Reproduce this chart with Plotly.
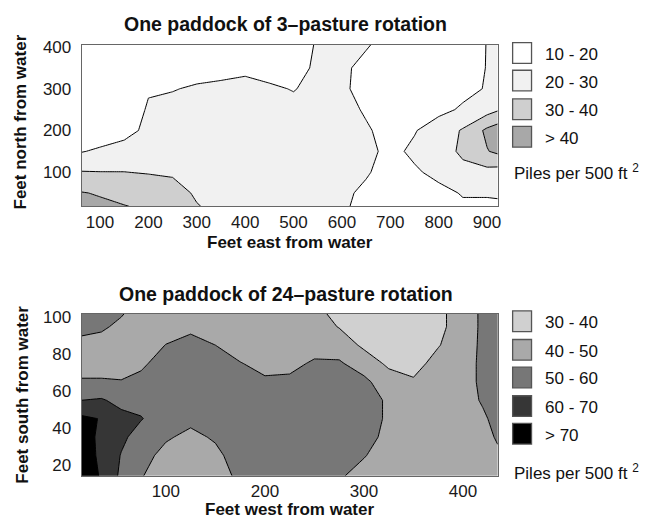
import plotly.graph_objects as go

# ---------------- Data: top panel (3-pasture rotation) ----------------
top_x = [62, 100, 150, 200, 250, 300, 350, 400, 450, 500, 550, 600, 650, 700, 750, 800, 850, 900, 922]
top_y = [18, 50, 100, 150, 200, 250, 300, 350, 406]
# piles per 500 ft^2, one list per x position (values going up in y)
top_cols = [
    [45, 40.5, 30.5, 19.5, 15, 14, 13, 13, 13],
    [42, 39.2, 30.2, 21.5, 14, 13, 13, 12, 12],
    [40.5, 36, 30.1, 25, 15.7, 14, 13, 12, 12],
    [38, 35, 29.5, 25, 23, 21, 19.2, 15, 14],
    [36, 33, 29, 25, 24, 23, 19.5, 15, 14],
    [30.4, 29, 27, 26, 25, 24, 21.2, 16, 14],
    [28, 27, 26, 26, 25, 24, 22, 17, 14],
    [27, 26, 26, 26, 25, 24, 23, 18, 14],
    [26, 26, 26, 25, 25, 24, 21.5, 16, 14],
    [26, 26, 25, 25, 24, 23, 19.5, 16, 15],
    [26, 26, 25, 25, 25, 24, 23, 22, 21],
    [21.5, 22, 23, 24, 24, 23, 21, 21, 23],
    [17, 18, 21, 22, 21, 19, 18, 18.5, 20.5],
    [15, 14, 16, 18, 17, 15, 15, 16, 18],
    [15, 16, 19, 21.5, 19.5, 16, 15, 15, 16],
    [16, 18, 22, 25, 24, 18, 16, 15, 15],
    [19, 20.5, 27, 32, 31, 21, 18, 16, 16],
    [19, 20.5, 27, 39.5, 42, 26, 20.5, 20.3, 20.2],
    [18, 21.5, 26, 42, 45, 29, 25, 23, 22],
]
top_labels = ["10 - 20", "20 - 30", "30 - 40", "> 40"]
top_colors = ["#ffffff", "#f1f1f1", "#cfcfcf", "#a8a8a8"]
top_xticks = [100, 200, 300, 400, 500, 600, 700, 800, 900]
top_yticks = [100, 200, 300, 400]

# ---------------- Data: bottom panel (24-pasture rotation) ----------------
bot_x = [15, 35, 55, 75, 100, 125, 150, 175, 200, 225, 250, 275, 300, 325, 350, 375, 400, 420, 435]
bot_y = [14, 25, 35, 45, 55, 65, 75, 85, 95, 102]
bot_cols = [
    [76, 75, 74, 72, 60, 51, 46, 45, 55, 56],
    [69, 68, 68, 69.5, 61, 51, 46, 45, 52, 55],
    [58, 59.5, 62, 63, 57, 50.5, 46, 44, 47, 51],
    [50.5, 53, 56, 60.5, 57, 53, 48, 45, 44, 44],
    [46, 47.5, 51, 55, 57, 57, 55, 50.2, 46, 44],
    [45, 46, 48, 52, 56, 58, 57, 53, 48, 45],
    [46, 48, 51, 55, 58, 58, 56, 50, 47, 45],
    [52, 54, 56, 58, 58, 57, 50.3, 47, 45, 44],
    [55, 57, 58, 59, 58, 51, 48, 46, 45, 44],
    [56, 58, 59, 59, 58, 51.5, 48, 46, 45, 44],
    [56, 58, 58, 58, 57, 55, 51, 47, 45, 43],
    [51, 54, 56, 57, 57, 55, 51, 46, 39.5, 37],
    [47, 50.5, 54, 56, 56, 52, 46, 38, 36, 35],
    [45, 46, 47, 48, 48, 45, 38, 36, 35, 35],
    [44, 45, 46, 46, 45, 41, 37, 35, 35, 35],
    [44, 45, 45, 45, 45, 44, 43, 39.5, 38, 38],
    [44, 45, 46, 46, 46, 46, 46, 45, 44, 44],
    [45, 46, 47, 48.5, 51, 52, 52, 52, 52, 52],
    [47, 48.5, 51, 53, 54, 55, 55, 55, 55, 55],
]
bot_labels = ["30 - 40", "40 - 50", "50 - 60", "60 - 70", "> 70"]
bot_colors = ["#d0d0d0", "#a9a9a9", "#777777", "#363636", "#000000"]
bot_xticks = [100, 200, 300, 400]
bot_yticks = [20, 40, 60, 80, 100]

# page body has an 8px margin: the figure is drawn 16px smaller than the window
OFF = 8
W, H = 657 - 2 * OFF, 529 - 2 * OFF
FONT = "Liberation Sans, Arial, Helvetica, sans-serif"


def stepped(colors):
    n = len(colors)
    scale = []
    for i, c in enumerate(colors):
        lo = 0 if i == 0 else (i - 0.5) / (n - 1)
        hi = 1 if i == n - 1 else (i + 0.5) / (n - 1)
        scale.append([lo, c])
        scale.append([hi, c])
    return scale


def transpose(cols):
    return [list(r) for r in zip(*cols)]


def px_x(p):
    return (p - OFF) / W


def px_y(p):
    return 1 - (p - OFF) / H


fig = go.Figure()

fig.add_trace(go.Contour(
    x=top_x, y=top_y, z=transpose(top_cols),
    contours=dict(start=20, end=40, size=10, coloring="fill", showlines=True),
    line=dict(color="black", width=1, smoothing=0),
    colorscale=stepped(top_colors), showscale=False, hoverinfo="skip",
    xaxis="x", yaxis="y",
))
fig.add_trace(go.Contour(
    x=bot_x, y=bot_y, z=transpose(bot_cols),
    contours=dict(start=40, end=70, size=10, coloring="fill", showlines=True),
    line=dict(color="black", width=1, smoothing=0),
    colorscale=stepped(bot_colors), showscale=False, hoverinfo="skip",
    xaxis="x2", yaxis="y2",
))

tickfont = dict(family=FONT, size=17, color="#1a1a1a")
xaxis_common = dict(showgrid=False, zeroline=False, showline=True, mirror=True,
                    linecolor="#666666", linewidth=1, ticks="", tickfont=tickfont)
yaxis_common = dict(showgrid=False, zeroline=False, showline=True, mirror=True,
                    linecolor="#666666", linewidth=1, ticks="outside", ticklen=6,
                    tickcolor="rgba(0,0,0,0)", tickfont=tickfont)

fig.update_layout(
    width=W, height=H, margin=dict(l=0, r=0, t=0, b=0),
    paper_bgcolor="white", plot_bgcolor="white", showlegend=False,
    xaxis=dict(domain=[px_x(82), px_x(500)], range=[top_x[0], top_x[-1]],
               tickvals=top_xticks, anchor="y", **xaxis_common),
    yaxis=dict(domain=[px_y(202), px_y(38)], range=[top_y[0], top_y[-1]],
               tickvals=top_yticks, anchor="x", **yaxis_common),
    xaxis2=dict(domain=[px_x(82), px_x(500)], range=[bot_x[0], bot_x[-1]],
                tickvals=bot_xticks, anchor="y2", **xaxis_common),
    yaxis2=dict(domain=[px_y(475), px_y(311)], range=[bot_y[0], bot_y[-1]],
                tickvals=bot_yticks, anchor="x2", **yaxis_common),
)

ann = []
shapes = []


def text(x, y, s, size=17, bold=False, angle=0, xanchor="center"):
    ann.append(dict(x=px_x(x), y=px_y(y), xref="paper", yref="paper",
                    text=f"<b>{s}</b>" if bold else s,
                    showarrow=False, xanchor=xanchor, yanchor="middle", textangle=angle,
                    font=dict(family=FONT, size=size, color="#111")))


# titles
text(287, 17, "One paddock of 3\u2013pasture rotation", size=19.5, bold=True)
text(287, 291, "One paddock of 24\u2013pasture rotation", size=19.5, bold=True)
text(291, 239, "Feet east from water", size=17, bold=True)
text(291, 509, "Feet west from water", size=17, bold=True)
text(21, 116, "Feet north from water", size=17, bold=True, angle=-90)
text(23, 393, "Feet south from water", size=17, bold=True, angle=-90)

# legends
top_box_tops = [36, 64, 93, 121]
for t, lab, col in zip(top_box_tops, top_labels, top_colors):
    shapes.append(dict(type="rect", xref="paper", yref="paper", x0=px_x(515), x1=px_x(534),
                       y0=px_y(t + 21), y1=px_y(t), fillcolor=col, line=dict(color="#555", width=1.3)))
    text(546, t + 12, lab, size=17, xanchor="left")
text(514, 167, "Piles per 500 ft <sup>2</sup>", size=17, xanchor="left")

bot_box_tops = [308, 337, 365, 394, 422]
for t, lab, col in zip(bot_box_tops, bot_labels, bot_colors):
    shapes.append(dict(type="rect", xref="paper", yref="paper", x0=px_x(515), x1=px_x(534),
                       y0=px_y(t + 21), y1=px_y(t), fillcolor=col, line=dict(color="#555", width=1.3)))
    text(546, t + 12, lab, size=17, xanchor="left")
text(514, 471, "Piles per 500 ft <sup>2</sup>", size=17, xanchor="left")

fig.update_layout(annotations=ann, shapes=shapes)

fig.write_html("out.html")
